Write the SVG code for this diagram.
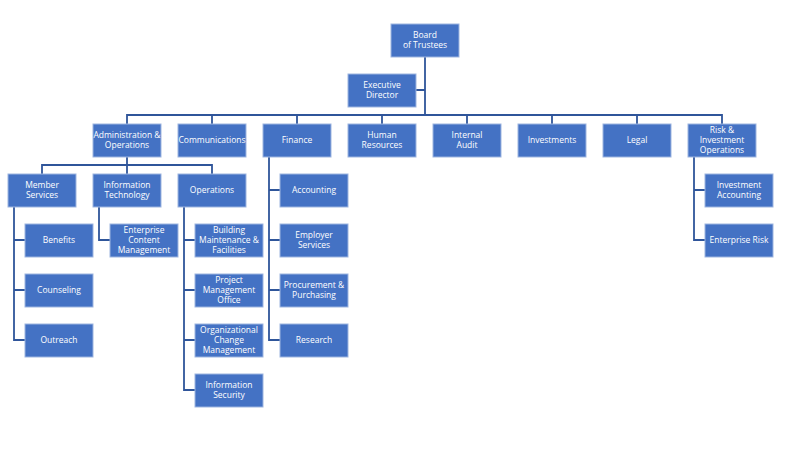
<svg xmlns="http://www.w3.org/2000/svg" width="800" height="467" viewBox="0 0 800 467">
<style>
.n rect{fill:#4472C4;stroke:#9DB5E0;stroke-width:1}
.n text{fill:#fff;font-family:"Open Sans","Noto Sans",sans-serif;font-size:8.5px;text-anchor:middle}
#c path{fill:none;stroke:#2F559A;stroke-width:1.8}
</style>
<rect width="800" height="467" fill="#fff"/>
<g id="c">
<path d="M425,57V115M416,90H425M127,124V115H722V124M212,115V124M297,115V124M382,115V124M467,115V124M552,115V124M637,115V124"/>
<path d="M127,157V165M42,174V165H212V174M127,165V174"/>
<path d="M14,207V340H25M14,240H25M14,290H25"/>
<path d="M99,207V240H110"/>
<path d="M184,207V390H195M184,240H195M184,290H195M184,340H195"/>
<path d="M269,157V340H280M269,190H280M269,240H280M269,290H280"/>
<path d="M694,157V240H705M694,190H705"/>
</g>
<g id="board" class="n"><rect x="391" y="24" width="68" height="33"/><text x="425" y="38">Board</text><text x="425" y="48">of Trustees</text></g>
<g id="exec" class="n"><rect x="348" y="74" width="68" height="33"/><text x="382" y="88">Executive</text><text x="382" y="98">Director</text></g>
<g id="admin" class="n"><rect x="93" y="124" width="68" height="33"/><text x="127" y="138">Administration &amp;</text><text x="127" y="148">Operations</text></g>
<g id="comm" class="n"><rect x="178" y="124" width="68" height="33"/><text x="212" y="143">Communications</text></g>
<g id="finance" class="n"><rect x="263" y="124" width="68" height="33"/><text x="297" y="143">Finance</text></g>
<g id="hr" class="n"><rect x="348" y="124" width="68" height="33"/><text x="382" y="138">Human</text><text x="382" y="148">Resources</text></g>
<g id="audit" class="n"><rect x="433" y="124" width="68" height="33"/><text x="467" y="138">Internal</text><text x="467" y="148">Audit</text></g>
<g id="invest" class="n"><rect x="518" y="124" width="68" height="33"/><text x="552" y="143">Investments</text></g>
<g id="legal" class="n"><rect x="603" y="124" width="68" height="33"/><text x="637" y="143">Legal</text></g>
<g id="risk" class="n"><rect x="688" y="124" width="68" height="33"/><text x="722" y="133">Risk &amp;</text><text x="722" y="143">Investment</text><text x="722" y="153">Operations</text></g>
<g id="member" class="n"><rect x="8" y="174" width="68" height="33"/><text x="42" y="188">Member</text><text x="42" y="198">Services</text></g>
<g id="it" class="n"><rect x="93" y="174" width="68" height="33"/><text x="127" y="188">Information</text><text x="127" y="198">Technology</text></g>
<g id="ops" class="n"><rect x="178" y="174" width="68" height="33"/><text x="212" y="193">Operations</text></g>
<g id="benefits" class="n"><rect x="25" y="224" width="68" height="33"/><text x="59" y="243">Benefits</text></g>
<g id="counseling" class="n"><rect x="25" y="274" width="68" height="33"/><text x="59" y="293">Counseling</text></g>
<g id="outreach" class="n"><rect x="25" y="324" width="68" height="33"/><text x="59" y="343">Outreach</text></g>
<g id="ecm" class="n"><rect x="110" y="224" width="68" height="33"/><text x="144" y="233">Enterprise</text><text x="144" y="243">Content</text><text x="144" y="253">Management</text></g>
<g id="bldg" class="n"><rect x="195" y="224" width="68" height="33"/><text x="229" y="233">Building</text><text x="229" y="243">Maintenance &amp;</text><text x="229" y="253">Facilities</text></g>
<g id="pmo" class="n"><rect x="195" y="274" width="68" height="33"/><text x="229" y="283">Project</text><text x="229" y="293">Management</text><text x="229" y="303">Office</text></g>
<g id="ocm" class="n"><rect x="195" y="324" width="68" height="33"/><text x="229" y="333">Organizational</text><text x="229" y="343">Change</text><text x="229" y="353">Management</text></g>
<g id="infosec" class="n"><rect x="195" y="374" width="68" height="33"/><text x="229" y="388">Information</text><text x="229" y="398">Security</text></g>
<g id="acct" class="n"><rect x="280" y="174" width="68" height="33"/><text x="314" y="193">Accounting</text></g>
<g id="employer" class="n"><rect x="280" y="224" width="68" height="33"/><text x="314" y="238">Employer</text><text x="314" y="248">Services</text></g>
<g id="proc" class="n"><rect x="280" y="274" width="68" height="33"/><text x="314" y="288">Procurement &amp;</text><text x="314" y="298">Purchasing</text></g>
<g id="research" class="n"><rect x="280" y="324" width="68" height="33"/><text x="314" y="343">Research</text></g>
<g id="invacct" class="n"><rect x="705" y="174" width="68" height="33"/><text x="739" y="188">Investment</text><text x="739" y="198">Accounting</text></g>
<g id="erisk" class="n"><rect x="705" y="224" width="68" height="33"/><text x="739" y="243">Enterprise Risk</text></g>
</svg>
